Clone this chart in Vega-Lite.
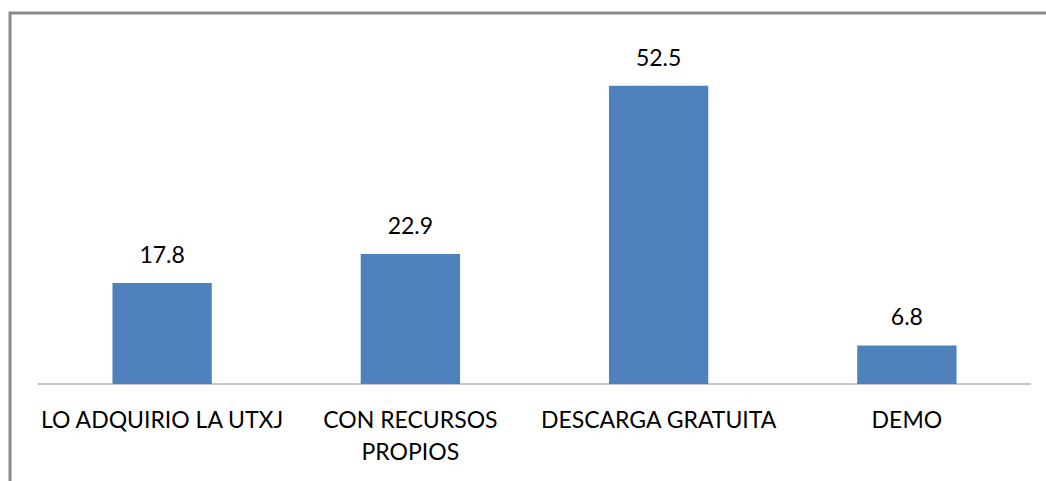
{
  "$schema": "https://vega.github.io/schema/vega-lite/v6.json",
  "autosize": {"type": "none"},
  "padding": {"left": 10, "top": 13, "right": 0, "bottom": 0},
  "width": 1046,
  "height": 481,
  "background": "white",
  "config": {
    "view": {"stroke": "#8a8a8a", "strokeWidth": 3},
    "font": "Lato"
  },
  "data": {
    "values": [
      {"categoria": "LO ADQUIRIO LA UTXJ", "valor": 17.8},
      {"categoria": "CON RECURSOS PROPIOS", "valor": 22.9},
      {"categoria": "DESCARGA GRATUITA", "valor": 52.5},
      {"categoria": "DEMO", "valor": 6.8}
    ]
  },
  "encoding": {
    "x": {
      "field": "categoria",
      "type": "nominal",
      "sort": null,
      "scale": {"range": [28, 1021], "paddingInner": 0.6, "paddingOuter": 0.3},
      "axis": {
        "title": null,
        "orient": "bottom",
        "offset": -110,
        "labelAngle": 0,
        "labelFont": "Lato",
        "labelFontSize": 23,
        "labelColor": "#000000",
        "labelBaseline": "top",
        "labelPadding": 25,
        "labelLineHeight": 32,
        "labelLimit": 400,
        "labelExpr": "datum.value == 'CON RECURSOS PROPIOS' ? ['CON RECURSOS', 'PROPIOS'] : datum.value",
        "ticks": false,
        "tickSize": 0,
        "domain": false,
        "grid": false
      }
    },
    "y": {
      "field": "valor",
      "type": "quantitative",
      "scale": {"domain": [0, 60], "range": [371, 30.2], "nice": false, "zero": true},
      "axis": null
    }
  },
  "layer": [
    {
      "mark": {"type": "tick", "orient": "horizontal", "size": 248.5, "thickness": 1, "color": "#8c8c8c", "opacity": 1},
      "encoding": {"y": {"datum": 0, "type": "quantitative"}}
    },
    {"mark": {"type": "bar", "color": "#4F81BD"}},
    {
      "mark": {"type": "text", "baseline": "alphabetic", "dy": -20, "font": "Lato", "fontSize": 23, "color": "#000000"},
      "encoding": {"text": {"field": "valor", "type": "quantitative", "format": ".1f"}}
    }
  ]
}
